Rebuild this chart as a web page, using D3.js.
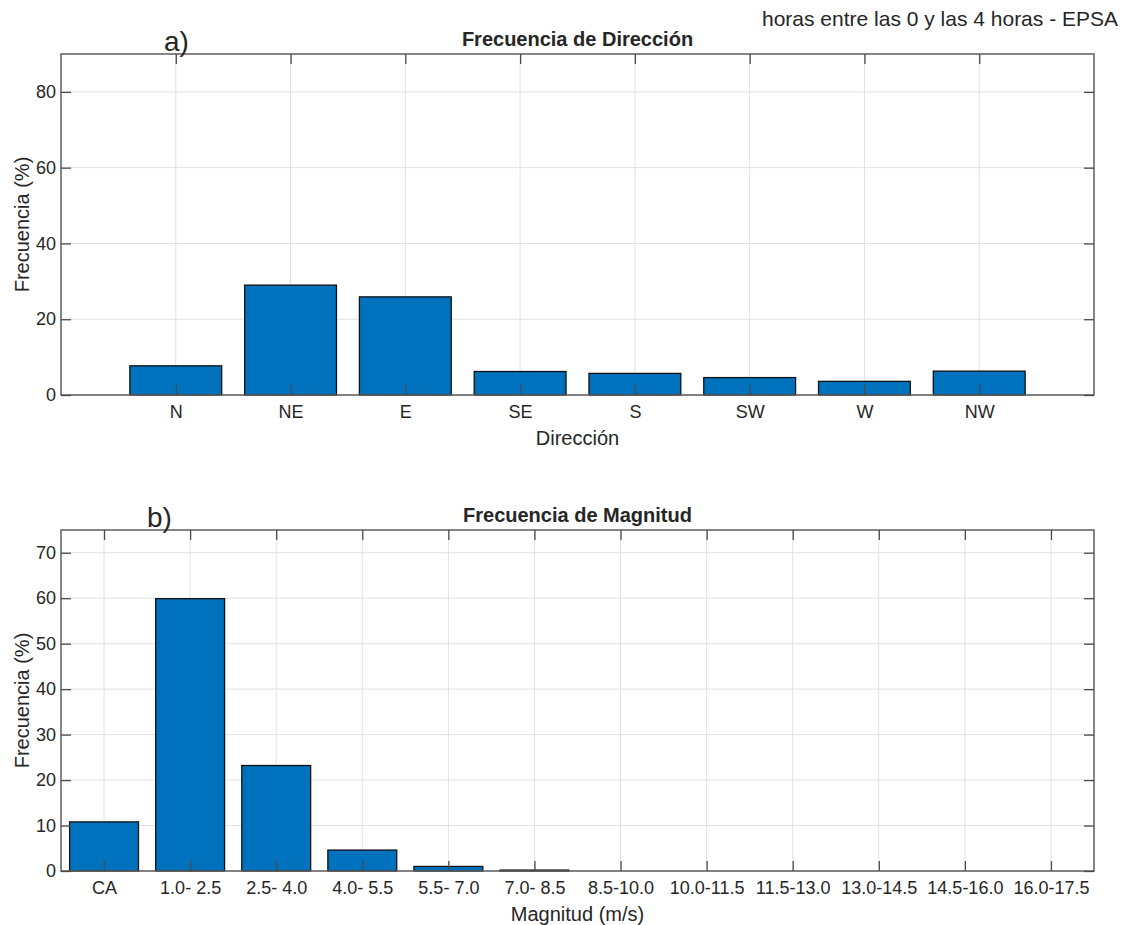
<!DOCTYPE html>
<html>
<head>
<meta charset="utf-8">
<script src="https://cdn.jsdelivr.net/npm/d3@7"></script>
<style>
    body { margin: 0; background: #fff; }
    svg text { font-family: "Liberation Sans", Arial, sans-serif; fill: #262626; }
</style>
</head>
<body>
<div id="chart"></div>
<script>
// direction panel
var dirCategories = ["N", "NE", "E", "SE", "S", "SW", "W", "NW"];
var dirValues = [7.7, 29.0, 25.9, 6.2, 5.7, 4.6, 3.6, 6.3];
var dirTicksY = [0, 20, 40, 60, 80];

// magnitude panel
var magCategories = ["CA", "1.0- 2.5", "2.5- 4.0", "4.0- 5.5", "5.5- 7.0", "7.0- 8.5",
    "8.5-10.0", "10.0-11.5", "11.5-13.0", "13.0-14.5", "14.5-16.0", "16.0-17.5"];
var magValues = [10.8, 59.9, 23.2, 4.6, 1.0, 0.2, 0, 0, 0, 0, 0, 0];
var magTicksY = [0, 10, 20, 30, 40, 50, 60, 70];

var svg = d3.select("#chart")
    .append("svg")
    .attr("width", 1135)
    .attr("height", 925);

svg.append("text")
    .attr("x", 1118)
    .attr("y", 26)
    .attr("font-size", "21px")
    .attr("text-anchor", "end")
    .text("horas entre las 0 y las 4 horas - EPSA");

BarPanel = function(_opts){
    this.opts = _opts;
    this.initVis();
};

BarPanel.prototype.initVis = function(){
    var vis = this;
    var o = vis.opts;

    vis.left = 61; vis.right = 1094;
    vis.top = o.top; vis.bottom = o.bottom;

    vis.x = d3.scaleLinear()
        .domain(o.xDomain)
        .range([vis.left, vis.right]);

    vis.y = d3.scaleLinear()
        .domain([0, o.yMax])
        .range([vis.bottom, vis.top]);

    vis.g = svg.append("g");

    var idx = o.categories.map(function(d, i) { return i + 1; });

    // grid
    vis.g.selectAll(".gridx")
        .data(idx)
        .enter().append("line")
        .attr("x1", d => vis.x(d)).attr("x2", d => vis.x(d))
        .attr("y1", vis.top).attr("y2", vis.bottom)
        .attr("stroke", "#e1e1e1").attr("stroke-width", 1);

    vis.g.selectAll(".gridy")
        .data(o.yTicks)
        .enter().append("line")
        .attr("x1", vis.left).attr("x2", vis.right)
        .attr("y1", d => vis.y(d)).attr("y2", d => vis.y(d))
        .attr("stroke", "#e1e1e1").attr("stroke-width", 1);

    // bars
    vis.g.selectAll(".bar")
        .data(o.values)
        .enter().append("rect")
        .attr("x", (d, i) => vis.x(i + 1 - 0.4))
        .attr("width", vis.x(0.8) - vis.x(0))
        .attr("y", d => vis.y(d))
        .attr("height", d => vis.bottom - vis.y(d))
        .attr("fill", "#0072bd")
        .attr("stroke", "#111")
        .attr("stroke-width", d => d > 0 ? 1.3 : 0);

    // box
    vis.g.append("rect")
        .attr("x", vis.left).attr("y", vis.top)
        .attr("width", vis.right - vis.left)
        .attr("height", vis.bottom - vis.top)
        .attr("fill", "none")
        .attr("stroke", "#5e5e5e")
        .attr("stroke-width", 1.5);

    // axes with inward ticks
    var tl = 10;
    var xAxisB = d3.axisBottom(vis.x).tickValues(idx)
        .tickSize(-tl).tickPadding(10)
        .tickFormat((d, i) => o.categories[i]);
    var xAxisT = d3.axisTop(vis.x).tickValues(idx).tickSize(-tl).tickFormat("");
    var yAxisL = d3.axisLeft(vis.y).tickValues(o.yTicks)
        .tickSize(-tl).tickPadding(5).tickFormat(d3.format("d"));
    var yAxisR = d3.axisRight(vis.y).tickValues(o.yTicks).tickSize(-tl).tickFormat("");

    var axes = [
        [xAxisB, "translate(0," + vis.bottom + ")"],
        [xAxisT, "translate(0," + vis.top + ")"],
        [yAxisL, "translate(" + vis.left + ",0)"],
        [yAxisR, "translate(" + vis.right + ",0)"]
    ];
    axes.forEach(function(a){
        var ax = vis.g.append("g").attr("transform", a[1]).call(a[0]);
        ax.select(".domain").remove();
        ax.selectAll(".tick line").attr("stroke", "#4a4a4a").attr("stroke-width", 1.3);
        ax.selectAll(".tick text")
            .attr("font-size", "18px")
            .attr("fill", "#262626")
            .attr("font-family", "'Liberation Sans', Arial, sans-serif");
    });

    var cx = (vis.left + vis.right) / 2;

    vis.g.append("text")
        .attr("x", cx)
        .attr("y", vis.top - 8)
        .attr("font-size", "20px")
        .attr("font-weight", "bold")
        .attr("text-anchor", "middle")
        .text(o.title);

    vis.g.append("text")
        .attr("x", o.letterX)
        .attr("y", vis.top - 3)
        .attr("font-size", "28px")
        .text(o.letter);

    vis.g.append("text")
        .attr("x", cx)
        .attr("y", vis.bottom + 50)
        .attr("font-size", "20px")
        .attr("text-anchor", "middle")
        .text(o.xLabel);

    vis.g.append("text")
        .attr("transform", "translate(29," + ((vis.top + vis.bottom) / 2) + ") rotate(-90)")
        .attr("font-size", "20px")
        .attr("text-anchor", "middle")
        .text("Frecuencia (%)");
};

new BarPanel({
    top: 54, bottom: 395,
    xDomain: [0, 9], yMax: 90,
    categories: dirCategories, values: dirValues, yTicks: dirTicksY,
    title: "Frecuencia de Dirección", letter: "a)", letterX: 164,
    xLabel: "Dirección"
});

new BarPanel({
    top: 530, bottom: 871,
    xDomain: [0.5, 12.5], yMax: 75,
    categories: magCategories, values: magValues, yTicks: magTicksY,
    title: "Frecuencia de Magnitud", letter: "b)", letterX: 147,
    xLabel: "Magnitud (m/s)"
});
</script>
</body>
</html>
